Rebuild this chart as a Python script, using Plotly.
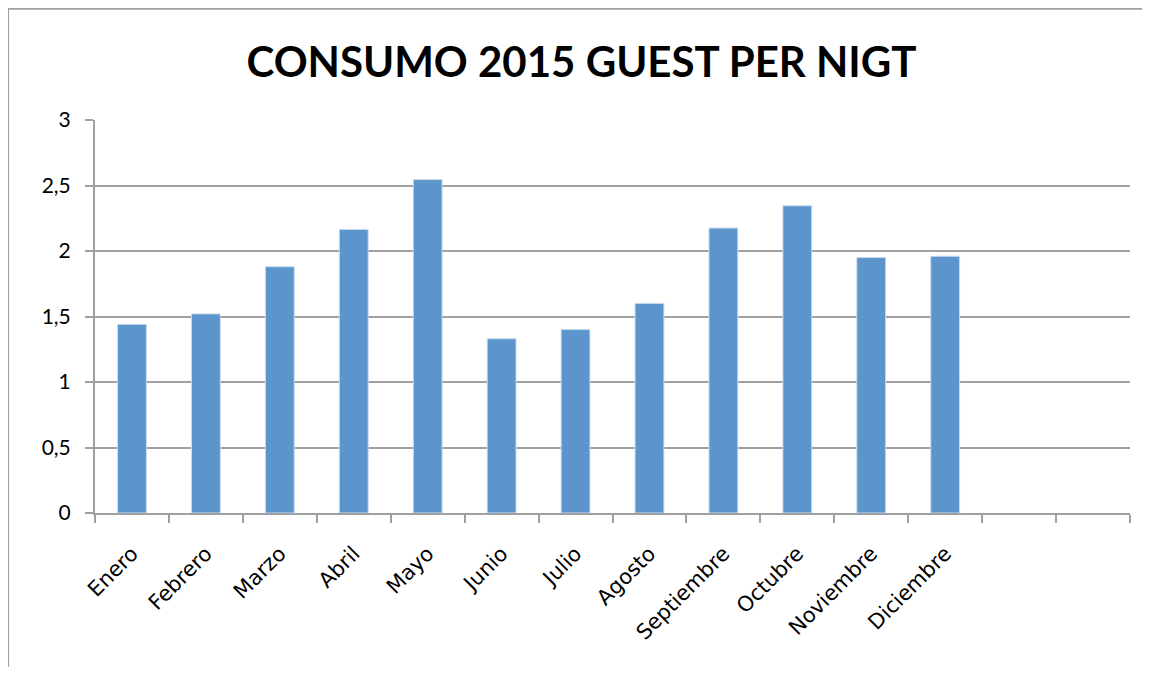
import plotly.graph_objects as go

months = ["Enero", "Febrero", "Marzo", "Abril", "Mayo", "Junio", "Julio",
          "Agosto", "Septiembre", "Octubre", "Noviembre", "Diciembre"]
values = [1.44, 1.52, 1.88, 2.165, 2.545, 1.33, 1.40, 1.60, 2.175, 2.345, 1.95, 1.96]
n_slots = 14
y_ticks = [0, 0.5, 1, 1.5, 2, 2.5, 3]
title = "CONSUMO 2015 GUEST PER NIGT"

x = list(range(len(months)))

fig = go.Figure(go.Bar(
    x=x, y=values, width=0.39,
    marker=dict(color="#5B95CB", line=dict(color="#C9DAEE", width=1)),
))

OFF = 8  # page body margin
W, H = 1150 - 2 * OFF, 675 - 2 * OFF
L, R, T, B = 94.5 - OFF, 1130.5 - OFF, 119.5 - OFF, 513.5 - OFF

fig.update_layout(
    width=W, height=H,
    margin=dict(l=L, r=W - R, t=T, b=H - B, autoexpand=False),
    paper_bgcolor="white", plot_bgcolor="white",
    separators=",.",
    showlegend=False,
    font=dict(family="Lato, Open Sans, sans-serif", color="black", size=20),
    title=dict(text="<b>" + title + "</b>", x=(581.5 - OFF) / W,
               xref="container", xanchor="center",
               y=1 - (62 - OFF) / H, yanchor="middle",
               font=dict(family="Lato, Open Sans, sans-serif", size=42, color="black")),
    xaxis=dict(
        range=[-0.5, n_slots - 0.5],
        tickmode="array", tickvals=x, ticktext=months,
        tickangle=-45, ticks="", showgrid=False, zeroline=False,
        showline=True, linecolor="#A0A0A0", linewidth=2,
        ticklabelstandoff=18,
        tickfont=dict(family="DejaVu Sans, sans-serif", size=21),
        minor=dict(tickmode="array",
                   tickvals=[i - 0.5 for i in range(n_slots + 1)],
                   ticks="outside", ticklen=8, tickwidth=2, tickcolor="#A0A0A0",
                   showgrid=False),
    ),
    yaxis=dict(
        range=[0, 3], tickmode="array", tickvals=y_ticks,
        showgrid=True, gridcolor="#A0A0A0", gridwidth=2,
        zeroline=False, showline=True, linecolor="#A0A0A0", linewidth=2,
        ticks="outside", ticklen=8, tickwidth=2, tickcolor="#A0A0A0",
        ticklabelstandoff=10, tickfont=dict(size=21),
    ),
    bargap=0.61,
)

# outer chart frame
pw, ph = R - L, B - T
fig.add_shape(type="rect", xref="paper", yref="paper",
              x0=(7 - OFF - L) / pw, x1=(1200 - L) / pw,
              y0=(B - 720) / ph, y1=(B - (7.5 - OFF)) / ph,
              line=dict(color="#A0A0A0", width=3), fillcolor="rgba(0,0,0,0)",
              layer="below")

fig.write_html("out.html")
